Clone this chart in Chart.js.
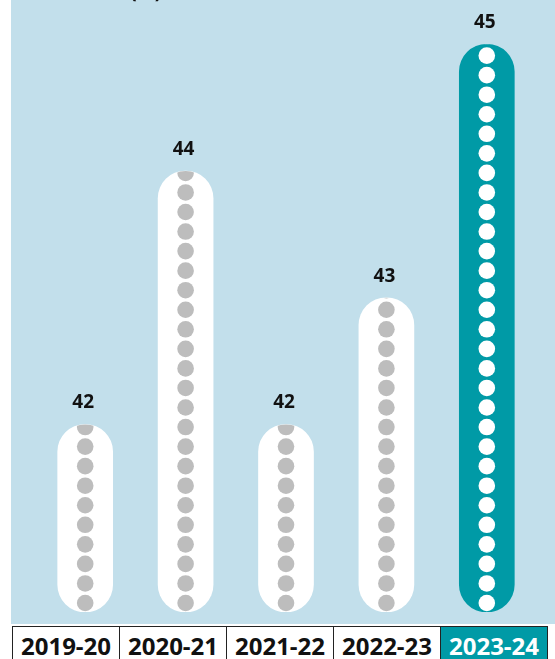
<!DOCTYPE html>
<html>
<head>
<meta charset="utf-8">
<script src="https://cdn.jsdelivr.net/npm/chart.js@4/dist/chart.umd.min.js"></script>
<style>
  body { margin: 0; background: #fff; width: 555px; height: 659px; overflow: hidden; position: relative; font-family: "Open Sans", sans-serif; }
  #panel { position: absolute; left: 11px; top: 0; width: 544px; height: 624px; background: #c2dfeb; }
  #years { position: absolute; left: 12px; top: 626px; border-collapse: collapse; }
  #years td { width: 106px; border: 1px solid #222; padding: 2px 0 4px 0; text-align: center; font-weight: 700; font-size: 24px; color: #111; background: #fff; }
  #years td.current { background: #009aa6; color: #fff; }
</style>
</head>
<body>
<div id="panel"><canvas id="chart-area-1" width="544" height="624"></canvas></div>
<table id="years"><tr id="yearRow"></tr></table>
<script>
var labels = ['2019-20', '2020-21', '2021-22', '2022-23', '2023-24'];
var values = [42, 44, 42, 43, 45];
var barColors = ['#ffffff', '#ffffff', '#ffffff', '#ffffff', '#009aa6'];
var dotColors = ['#bdbdbd', '#bdbdbd', '#bdbdbd', '#bdbdbd', '#ffffff'];

var yMin = 40.52, yMax = 45.35;

// year row under the chart
var row = document.getElementById('yearRow');
labels.forEach(function(l, i){
	var td = document.createElement('td');
	td.textContent = l;
	if (i == labels.length - 1) td.className = 'current';
	row.appendChild(td);
});

// dots inside each pill + value on top
var pillDots = {
	id: 'pillDots',
	afterDatasetsDraw: function(chart){
		var ctx = chart.ctx;
		var meta = chart.getDatasetMeta(0);
		meta.data.forEach(function(bar, i){
			var p = bar.getProps(['x', 'y', 'base', 'width'], true);
			var r = p.width / 2;
			ctx.save();
			ctx.beginPath();
			ctx.roundRect(p.x - r, p.y, p.width, p.base - p.y, r);
			ctx.clip();
			ctx.fillStyle = dotColors[i];
			for (var cy = p.base - 9; cy > p.y - 9; cy -= 19.55) {
				ctx.beginPath();
				ctx.arc(p.x, cy, 8.3, 0, Math.PI * 2);
				ctx.fill();
			}
			ctx.restore();

			ctx.save();
			ctx.fillStyle = '#111';
			ctx.font = 'bold 19px "Open Sans"';
			ctx.textAlign = 'center';
			ctx.textBaseline = 'alphabetic';
			ctx.fillText(values[i], p.x - 2, p.y - 16);
			ctx.restore();
		});

		// title cut off at the top of the picture
		ctx.save();
		ctx.fillStyle = '#111';
		ctx.font = 'bold 20px "Open Sans"';
		ctx.textAlign = 'left';
		ctx.fillText('(%)', 119, -2);
		ctx.restore();
	}
};

var ctx = document.getElementById('chart-area-1').getContext('2d');
window.myBar = new Chart(ctx, {
	type: 'bar',
	data: {
		labels: labels,
		datasets: [{
			data: values,
			base: yMin,
			backgroundColor: barColors,
			borderWidth: 0,
			borderRadius: 28,
			borderSkipped: false,
			barThickness: 55
		}]
	},
	options: {
		responsive: false,
		animation: false,
		layout: { padding: { left: 24, right: 18, top: 0, bottom: 12 } },
		plugins: {
			legend: { display: false },
			title: { display: false },
			tooltip: { enabled: false }
		},
		scales: {
			x: { display: false },
			y: { display: false, min: yMin, max: yMax }
		}
	},
	plugins: [pillDots]
});
</script>
</body>
</html>
